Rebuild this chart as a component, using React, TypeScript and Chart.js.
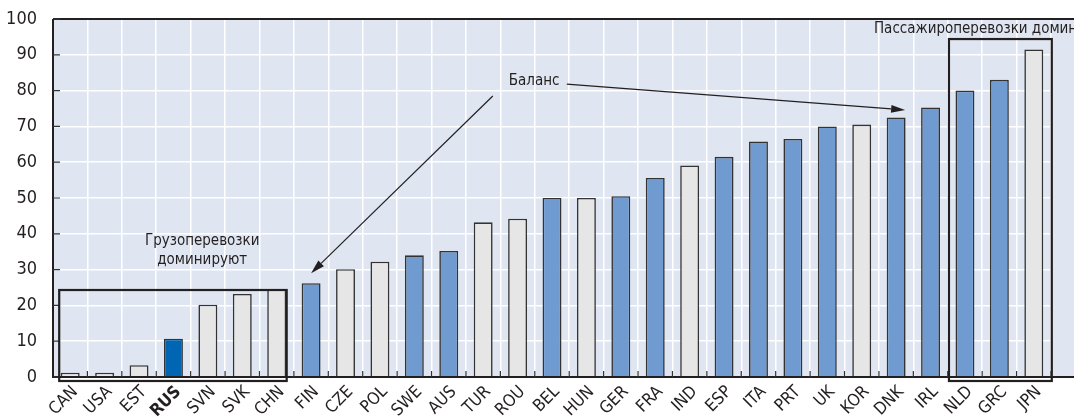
import React, { useEffect, useRef } from "react";
import { Chart, registerables } from "chart.js";

Chart.register(...registerables);

const categories = ["CAN","USA","EST","RUS","SVN","SVK","CHN","FIN","CZE","POL","SWE","AUS","TUR","ROU","BEL","HUN","GER","FRA","IND","ESP","ITA","PRT","UK","KOR","DNK","IRL","NLD","GRC","JPN"];
const values = [1.2,1.2,3.3,10.7,20.2,23.2,24.5,26.2,30.1,32.2,34.0,35.2,43.2,44.2,50.0,50.0,50.5,55.6,59.1,61.5,65.8,66.5,70.0,70.5,72.5,75.3,80.0,83.0,91.5];
// g = grey, b = blue, r = highlighted (Russia)
const kinds = ["g","g","g","r","g","g","g","b","g","g","b","b","g","g","b","g","b","b","g","b","b","b","b","g","b","b","b","b","g"];
const yTicks = [0,10,20,30,40,50,60,70,80,90,100];

const FONT = "'Liberation Sans Narrow', 'DejaVu Sans Condensed', 'Arial Narrow', sans-serif";
const colorOf: Record<string, string> = { g: "#e6e6e6", b: "#6f9bd1", r: "#0066b3" };

export default function App() {
  const ref = useRef<HTMLCanvasElement | null>(null);
  useEffect(() => {
    document.body.style.margin = "0";
    const canvas = ref.current!;
    const overlay = {
      id: "overlay",
      beforeDraw(chart: any) {
        const { ctx, chartArea: a } = chart;
        ctx.save();
        ctx.fillStyle = "#dfe6f2";
        ctx.fillRect(a.left, a.top, chart.width - a.left, a.bottom - a.top);
        ctx.restore();
      },
      afterDatasetsDraw(chart: any) {
        const { ctx, chartArea: a, scales } = chart;
        const xs = scales.x, ys = scales.y;
        const W = chart.width;
        ctx.save();
        // axes
        ctx.strokeStyle = "#231f20";
        ctx.lineWidth = 2;
        ctx.beginPath();
        ctx.moveTo(a.left, a.top);
        ctx.lineTo(W, a.top);
        ctx.moveTo(a.left, a.top);
        ctx.lineTo(a.left, a.bottom);
        ctx.lineTo(W, a.bottom);
        ctx.stroke();
        // inner ticks
        ctx.lineWidth = 1.2;
        ctx.strokeStyle = "#333";
        ctx.beginPath();
        yTicks.forEach((v) => {
          const y = ys.getPixelForValue(v);
          ctx.moveTo(a.left, y);
          ctx.lineTo(a.left + 7, y);
        });
        for (let i = 0; i < categories.length; i++) {
          const x = (xs.getPixelForValue(i) + xs.getPixelForValue(i + 1)) / 2;
          ctx.moveTo(x, a.bottom);
          ctx.lineTo(x, a.bottom - 6);
        }
        ctx.stroke();
        // boxes
        ctx.strokeStyle = "#231f20";
        ctx.lineWidth = 2.2;
        const lx0 = xs.getPixelForValue(0) - 11;
        const lx1 = xs.getPixelForValue(6) + 10;
        const ly0 = ys.getPixelForValue(24.3);
        const yb = a.bottom + 4;
        ctx.strokeRect(lx0, ly0, lx1 - lx0, yb - ly0);
        const rx0 = xs.getPixelForValue(26) - 16;
        const rx1 = xs.getPixelForValue(28) + 18;
        const ry0 = ys.getPixelForValue(94.4);
        ctx.strokeRect(rx0, ry0, rx1 - rx0, yb - ry0);
        // texts
        ctx.fillStyle = "#231f20";
        ctx.font = "15px " + FONT;
        ctx.textBaseline = "middle";
        ctx.textAlign = "center";
        const cx = lx0 + 143;
        ctx.fillText("Грузоперевозки", cx, ys.getPixelForValue(38.0));
        ctx.fillText("доминируют", cx, ys.getPixelForValue(32.6));
        ctx.textAlign = "left";
        ctx.fillText("Пассажироперевозки доминируют", rx0 - 75, ys.getPixelForValue(97.2));
        const bx = (xs.getPixelForValue(13) + xs.getPixelForValue(14)) / 2;
        const by = ys.getPixelForValue(82.7);
        ctx.fillText("Баланс", bx - 26, by);
        // arrows
        const arrow = (x0: number, y0: number, x1: number, y1: number) => {
          ctx.strokeStyle = "#231f20";
          ctx.fillStyle = "#231f20";
          ctx.lineWidth = 1.2;
          const ang = Math.atan2(y1 - y0, x1 - x0);
          const L = 14, Wd = 4;
          const bxp = x1 - L * Math.cos(ang), byp = y1 - L * Math.sin(ang);
          ctx.beginPath();
          ctx.moveTo(x0, y0);
          ctx.lineTo(bxp, byp);
          ctx.stroke();
          ctx.beginPath();
          ctx.moveTo(x1, y1);
          ctx.lineTo(bxp + Wd * Math.sin(ang), byp - Wd * Math.cos(ang));
          ctx.lineTo(bxp - Wd * Math.sin(ang), byp + Wd * Math.cos(ang));
          ctx.closePath();
          ctx.fill();
        };
        arrow(bx - 42, ys.getPixelForValue(78.5), xs.getPixelForValue(7), ys.getPixelForValue(29.0));
        arrow(bx + 32, ys.getPixelForValue(81.8), xs.getPixelForValue(24) + 9, ys.getPixelForValue(74.6));
        ctx.restore();
      },
    };
    const chart = new Chart(canvas, {
      type: "bar",
      data: {
        labels: categories,
        datasets: [
          {
            data: values,
            backgroundColor: kinds.map((k) => colorOf[k]),
            borderColor: "#333333",
            borderWidth: 1.6,
            borderSkipped: "bottom",
            barPercentage: 0.55,
            categoryPercentage: 1,
          },
        ],
      },
      options: {
        animation: false,
        responsive: false,
        maintainAspectRatio: false,
        layout: { padding: { top: 19, right: 23, left: 0, bottom: 0 } },
        plugins: { legend: { display: false }, tooltip: { enabled: false } },
        scales: {
          x: {
            grid: { color: "#ffffff", lineWidth: 1.5, drawTicks: false, offset: true },
            border: { display: false },
            afterFit: (s: any) => {
              s.height = 41;
              s.paddingTop = 0; s.paddingBottom = 0; s.paddingLeft = 0; s.paddingRight = 0;
            },
            ticks: {
              minRotation: 45,
              maxRotation: 45,
              autoSkip: false,
              padding: 5,
              labelOffset: 5,
              color: "#231f20",
              font: (c: any) => ({
                family: FONT,
                size: 17,
                weight: categories[c.index] === "RUS" ? "bold" : "normal",
              }),
            },
          },
          y: {
            min: 0,
            max: 100,
            grid: { color: "#ffffff", lineWidth: 1.5, drawTicks: false },
            border: { display: false },
            afterFit: (s: any) => {
              s.width = 53;
              s.paddingTop = 0; s.paddingBottom = 0;
            },
            afterBuildTicks: (s: any) => { s.ticks = yTicks.map((v) => ({ value: v })); },
            ticks: {
              padding: 16,
              color: "#231f20",
              font: { family: FONT, size: 18 },
            },
          },
        },
      },
      plugins: [overlay],
    });
    return () => chart.destroy();
  }, []);
  return (
    <div style={{ width: 1074, height: 418 }}>
      <canvas ref={ref} width={1074} height={418} style={{ display: "block" }} />
    </div>
  );
}
